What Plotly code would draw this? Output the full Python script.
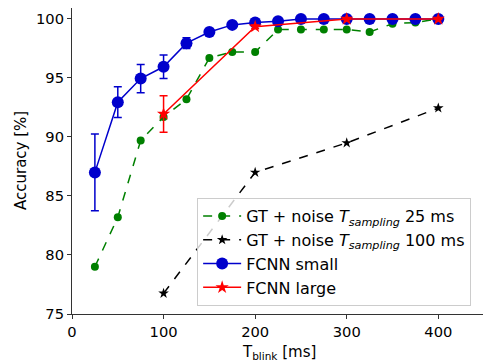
import plotly.graph_objects as go

# Data
t_all = [25, 50, 75, 100, 125, 150, 175, 200, 225, 250, 275, 300, 325, 350, 375, 400]
gt25_acc = [79.0, 83.2, 89.7, 91.7, 93.2, 96.7, 97.2, 97.2, 99.1, 99.1, 99.1, 99.1, 98.9, 99.6, 99.7, 100.0]

t_100 = [100, 200, 300, 400]
gt100_acc = [76.75, 87.0, 89.5, 92.45]

small_acc = [87.0, 92.95, 94.95, 95.95, 97.95, 98.9, 99.5, 99.7, 99.8, 100.0, 100.0, 100.0, 100.0, 100.0, 100.0, 100.0]
small_err = [3.25, 1.3, 1.2, 1.0, 0.45, 0.2, 0.2, 0.1, 0.1, 0.05, 0.05, 0.05, 0.05, 0.05, 0.05, 0.05]

t_large = [100, 200, 300, 400]
large_acc = [91.95, 99.35, 100.0, 100.0]
large_err = [1.55, 0.15, 0.05, 0.05]

x_ticks = [0, 100, 200, 300, 400]
y_ticks = [75, 80, 85, 90, 95, 100]

FONT = "DejaVu Sans"

fig = go.Figure()
fig.add_trace(go.Scatter(
    x=t_all, y=gt25_acc, mode="lines+markers",
    name="GT + noise <i>T</i><sub><i>sampling</i></sub> 25 ms",
    line=dict(color="#008000", dash="dash", width=1.5),
    marker=dict(symbol="circle", size=8, color="#008000"),
))
fig.add_trace(go.Scatter(
    x=t_100, y=gt100_acc, mode="lines+markers",
    name="GT + noise <i>T</i><sub><i>sampling</i></sub> 100 ms",
    line=dict(color="black", dash="dash", width=1.5),
    marker=dict(symbol="star", size=8, color="black"),
))
fig.add_trace(go.Scatter(
    x=t_all, y=small_acc, mode="lines+markers", name="FCNN small",
    line=dict(color="#0000cc", width=1.5),
    marker=dict(symbol="circle", size=12, color="#0000cc"),
    error_y=dict(type="data", array=small_err, color="#0000cc", thickness=1.5, width=4),
))
fig.add_trace(go.Scatter(
    x=t_large, y=large_acc, mode="lines+markers", name="FCNN large",
    line=dict(color="red", width=1.5),
    marker=dict(symbol="star", size=10, color="red"),
    error_y=dict(type="data", array=large_err, color="red", thickness=1.5, width=4),
))

axis_common = dict(
    showline=True, linecolor="#333333", linewidth=1, mirror=True,
    ticks="outside", ticklen=4, tickcolor="#333333",
    showgrid=False, zeroline=False, automargin=False,
    tickfont=dict(family=FONT, size=14.7, color="black"),
)
fig.update_xaxes(range=[0, 451], tickvals=x_ticks, **axis_common)
fig.update_yaxes(range=[75, 100.93], tickvals=y_ticks, **axis_common)

fig.add_annotation(
    text="T<sub>blink</sub> [ms]", xref="paper", yref="paper", x=0.5, y=0,
    xanchor="center", yanchor="middle", yshift=-38, showarrow=False,
    font=dict(family=FONT, size=15, color="black"),
)
fig.add_annotation(
    text="Accuracy [%]", xref="paper", yref="paper", x=0, y=0.5,
    xanchor="center", yanchor="middle", xshift=-51, textangle=-90, showarrow=False,
    font=dict(family=FONT, size=15, color="black"),
)

# page body has an 8px margin, so the figure is sized to fit the window
fig.update_layout(
    width=483, height=353,
    margin=dict(l=64, r=6, t=0, b=47),
    paper_bgcolor="white", plot_bgcolor="white",
    font=dict(family=FONT, size=15, color="black"),
    showlegend=True,
    legend=dict(
        x=0.303, y=0.026, xanchor="left", yanchor="bottom",
        bgcolor="rgba(255,255,255,0.8)", bordercolor="#cccccc", borderwidth=1,
        font=dict(family=FONT, size=16, color="black"),
        itemwidth=38,
    ),
)

fig.write_html("out.html")
